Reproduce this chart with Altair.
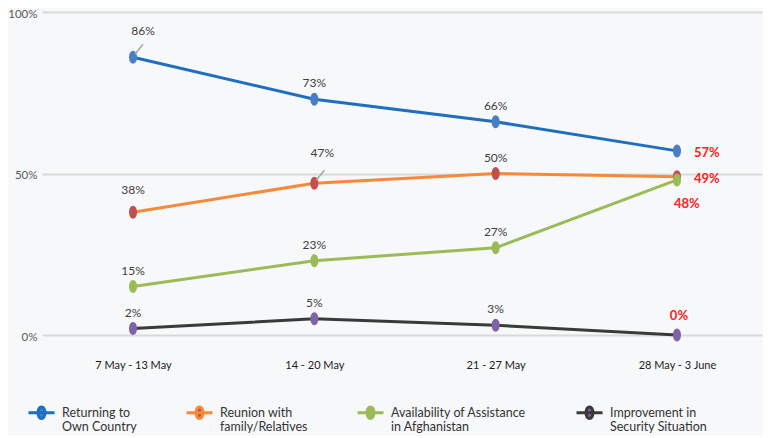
import json
import altair as alt
import pandas as pd

weeks = ["7 May - 13 May", "14 - 20 May", "21 - 27 May", "28 May - 3 June"]
series = [
    "Returning to\nOwn Country",
    "Reunion with\nfamily/Relatives",
    "Availability of Assistance\nin Afghanistan",
    "Improvement in\nSecurity Situation",
]
returning = [86, 73, 66, 57]
reunion = [38, 47, 50, 49]
assistance = [15, 23, 27, 48]
security = [2, 5, 3, 0]

line_colors = ["#1f6ebf", "#f58a3a", "#9bbb59", "#3a3a3a"]
point_colors = ["#4a7ec4", "#c0504d", "#9bbb59", "#7f62a8"]

FONT = "Lato"
ELLIPSE = "M0,-1A0.62,1 0 1,1 0,1A0.62,1 0 1,1 0,-1Z"
LEG_SYMBOL = "M-1,0H1M0,-0.45A0.27,0.45 0 1,1 0,0.45A0.27,0.45 0 1,1 0,-0.45Z"

rows = []
for si, (s, vals) in enumerate(zip(series, [returning, reunion, assistance, security])):
    for wi, (w, v) in enumerate(zip(weeks, vals)):
        rows.append({"series": s, "week": w, "wi": wi, "value": v,
                     "label": f"{v}%", "key": f"{si}-{wi}"})
df = pd.DataFrame(rows)

leg = alt.Legend(
    title=None, orient="none", legendX=-15, legendY=386, direction="horizontal",
    columns=4, symbolType=LEG_SYMBOL, symbolSize=676, symbolStrokeWidth=3,
    labelExpr="split(datum.label, '\\n')", labelFont=FONT, labelFontSize=12.5,
    labelColor="#333333", labelOffset=6, columnPadding=43, labelLimit=400,
    labelBaseline="middle", symbolOpacity=1,
)

base = alt.Chart(df).encode(
    x=alt.X("wi:Q", title=None,
            scale=alt.Scale(domain=[-0.502, 3.469], nice=False, zero=False),
            axis=alt.Axis(values=[0, 1, 2, 3], labelExpr=json.dumps(weeks) + "[datum.value]",
                          ticks=False, domain=False, grid=False,
                          labelPadding=24, labelFont=FONT, labelFontSize=11,
                          labelColor="#1a1a1a")),
    y=alt.Y("value:Q", title=None,
            scale=alt.Scale(domain=[0, 100], nice=False),
            axis=alt.Axis(values=[0, 50, 100], labelExpr="datum.value + '%'",
                          ticks=False, domain=False, gridColor="#d9d9d9",
                          gridWidth=2, labelPadding=5, labelOffset=2, labelFont=FONT,
                          labelFontSize=11.5, labelColor="#595959")),
)

lines = base.mark_line(strokeWidth=3).encode(
    stroke=alt.Stroke("series:N", sort=series,
                      scale=alt.Scale(domain=series, range=line_colors), legend=leg)
)
points = base.mark_point(filled=True, shape=ELLIPSE, size=169, opacity=1).encode(
    fill=alt.Fill("series:N", sort=series,
                  scale=alt.Scale(domain=series, range=point_colors), legend=leg)
)
leaders = base.mark_rule(color="#a6a6a6", strokeWidth=1.5, xOffset=2, yOffset=-3,
                         x2Offset=10, y2Offset=-13).encode(
    x2=alt.X2("wi:Q"), y2=alt.Y2("value:Q")
).transform_filter(alt.FieldOneOfPredicate(field="key", oneOf=["0-0", "1-1"]))

txt = dict(font=FONT, fontSize=12, color="#404040", baseline="middle")
normal = base.mark_text(dy=-16, **txt).encode(text="label:N").transform_filter(
    "datum.wi < 3 && indexof(['0-0','1-1','1-0'], datum.key) < 0")
lab38 = base.mark_text(dy=-22, **txt).encode(text="label:N").transform_filter(
    alt.FieldOneOfPredicate(field="key", oneOf=["1-0"]))
lab86 = base.mark_text(dx=10, dy=-26, **txt).encode(text="label:N").transform_filter(
    alt.FieldOneOfPredicate(field="key", oneOf=["0-0"]))
lab47 = base.mark_text(dx=8, dy=-30, **txt).encode(text="label:N").transform_filter(
    alt.FieldOneOfPredicate(field="key", oneOf=["1-1"]))

red = dict(font=FONT, fontSize=13, fontWeight="bold", color="#ff2020", baseline="middle")
redA = base.mark_text(align="left", dx=17, dy=2, **red).encode(text="label:N").transform_filter(
    alt.FieldOneOfPredicate(field="key", oneOf=["0-3", "1-3"]))
redB = base.mark_text(align="left", dx=-3, dy=24, **red).encode(text="label:N").transform_filter(
    alt.FieldOneOfPredicate(field="key", oneOf=["2-3"]))
redC = base.mark_text(dx=2, dy=-19, **red).encode(text="label:N").transform_filter(
    alt.FieldOneOfPredicate(field="key", oneOf=["3-3"]))

chart = alt.layer(lines, points, leaders, normal, lab38, lab86, lab47, redA, redB, redC).properties(
    width=720, height=323,
    autosize=alt.AutoSizeParams(type="none"),
    padding={"left": 34, "top": 4, "right": 1, "bottom": 101},
    background="#f7f8f9",
).configure_view(stroke=None)

chart.save("out.html", embed_options={"renderer": "svg", "actions": False})
